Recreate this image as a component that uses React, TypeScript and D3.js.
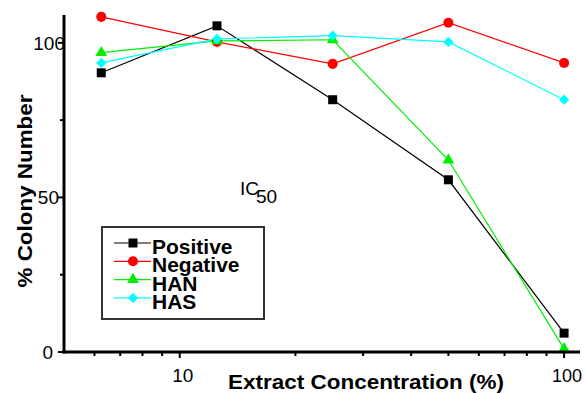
import React from 'react';
import * as d3 from 'd3';

// extract concentrations (%) used on the plates
const concentrations = [6.25, 12.5, 25, 50, 100];
// % colony number for each treatment
const positive = [90.3, 105.5, 81.6, 55.7, 6.1];
const negative = [108.4, 100.3, 93.2, 106.5, 93.5];
const han = [96.8, 100.6, 101, 62.1, 1];
const has = [93.5, 101.3, 102.3, 100.3, 81.6];

const seriesNames = ['Positive', 'Negative', 'HAN', 'HAS'];
const xMajorTicks = [10, 100];
const xMinorTicks = [6, 7, 8, 9, 20, 30, 40, 50, 60, 70, 80, 90];
const yMajorTicks = [0, 50, 100];
const yMinorTicks = [25, 75];

const W = 586;
const H = 393;
const FONT = '"Liberation Sans", Arial, Helvetica, sans-serif';

const colors = ['#000000', '#ff0000', '#00ee00', '#00ffff'];
const shapes = [d3.symbolSquare, d3.symbolCircle, d3.symbolTriangle, d3.symbolSquare];
const sizes = [81, 80, 60, 52];
const rotations = [0, 0, 0, 45];

function Marker({ i, x, y }: { i: number; x: number; y: number }) {
  const path = d3.symbol().type(shapes[i]).size(sizes[i])() || '';
  return (
    <path
      d={path}
      transform={`translate(${x},${y}) rotate(${rotations[i]})`}
      fill={colors[i]}
    />
  );
}

export default function App() {
  const x = d3.scaleLog().domain([5, 110]).range([64, 580]);
  const y = d3.scaleLinear().domain([0, 109]).range([352, 15]);
  const allSeries = [positive, negative, han, has];

  const line = d3
    .line<number>()
    .x((d, i) => x(concentrations[i]))
    .y((d) => y(d));

  return (
    <svg
      width={W}
      height={H}
      style={{ position: 'absolute', left: 0, top: 0, background: '#fff' }}
      fontFamily={FONT}
    >
      {/* lines */}
      {allSeries.map((s, i) => (
        <path key={'l' + i} d={line(s) || ''} fill="none" stroke={colors[i]} strokeWidth={1.2} />
      ))}
      {/* markers */}
      {allSeries.map((s, i) =>
        s.map((v, j) => <Marker key={`m${i}-${j}`} i={i} x={x(concentrations[j])} y={y(v)} />)
      )}

      {/* axes */}
      <line x1={x(5)} x2={x(5)} y1={y(109)} y2={y(0) + 1.5} stroke="#000" strokeWidth={3} />
      <line x1={x(5) - 1.5} x2={x(110)} y1={y(0)} y2={y(0)} stroke="#000" strokeWidth={3} />
      {xMajorTicks.map((t) => (
        <g key={'xt' + t}>
          <line x1={x(t)} x2={x(t)} y1={y(0)} y2={y(0) + 6} stroke="#000" strokeWidth={2} />
          <text x={x(t) + 3} y={382} fontSize={t === 100 ? 18 : 19} textAnchor="middle">
            {t}
          </text>
        </g>
      ))}
      {xMinorTicks.map((t) => (
        <line key={'xm' + t} x1={x(t)} x2={x(t)} y1={y(0)} y2={y(0) + 4} stroke="#000" strokeWidth={2} />
      ))}
      {yMajorTicks.map((t) => (
        <g key={'yt' + t}>
          <line x1={x(5) - 6} x2={x(5)} y1={y(t)} y2={y(t)} stroke="#000" strokeWidth={2} />
          <text x={t === 100 ? 65 : t === 50 ? 59 : 53} y={y(t) + 7} fontSize={19} textAnchor="end">
            {t}
          </text>
        </g>
      ))}
      {yMinorTicks.map((t) => (
        <line key={'ym' + t} x1={x(5) - 4} x2={x(5)} y1={y(t)} y2={y(t)} stroke="#000" strokeWidth={2} />
      ))}

      {/* axis titles */}
      <text
        x={366}
        y={389}
        fontSize={20}
        fontWeight="bold"
        textAnchor="middle"
        textLength={276}
        lengthAdjust="spacingAndGlyphs"
      >
        Extract Concentration (%)
      </text>
      <text
        transform="translate(32,191) rotate(-90)"
        fontSize={21}
        fontWeight="bold"
        textAnchor="middle"
        textLength={193}
        lengthAdjust="spacingAndGlyphs"
      >
        % Colony Number
      </text>

      {/* IC50 annotation */}
      <text x={240} y={195} fontSize={19}>
        IC
      </text>
      <text x={256} y={203} fontSize={19}>
        50
      </text>

      {/* legend */}
      <rect x={102} y={227} width={162} height={92} fill="#fff" stroke="#333" strokeWidth={2} />
      {seriesNames.map((name, i) => {
        const ly = 243 + i * 18.3;
        return (
          <g key={'lg' + i}>
            <line x1={114} x2={151} y1={ly} y2={ly} stroke={colors[i]} strokeWidth={1.2} />
            <Marker i={i} x={133} y={ly} />
            <text x={152} y={ly + 11} fontSize={21} fontWeight="bold">
              {name}
            </text>
          </g>
        );
      })}
    </svg>
  );
}
